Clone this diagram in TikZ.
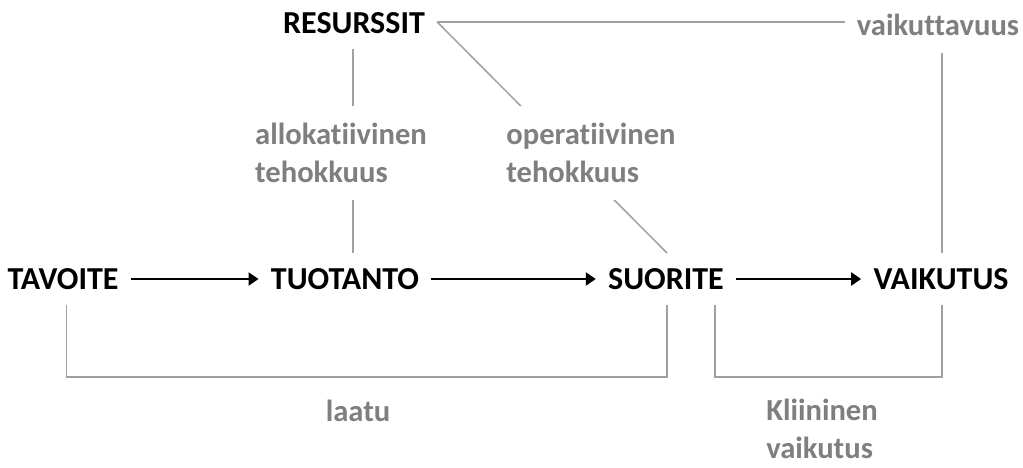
\documentclass[tikz,border=0pt]{standalone}
\usepackage{fontspec}
\setmainfont{Carlito}[Ligatures=NoCommon]
\usetikzlibrary{arrows.meta, positioning}
\definecolor{labelgray}{RGB}{127,127,127}
\definecolor{linegray}{RGB}{160,160,160}
\def\lw{1.15pt}
\tikzset{
    stage/.style = {
        font=\fontsize{16}{19}\selectfont\bfseries, inner xsep=6pt, inner ysep=7.5pt
    },
    measure/.style = {
        font=\fontsize{15.3}{19}\selectfont\bfseries, text=labelgray, align=left,
        inner xsep=6pt, inner ysep=8.5pt
    },
    link/.style = {draw=linegray, line width=0.75pt},
    flow/.style = {draw, line width=\lw, -{Triangle[width=6.5pt,length=5pt]}}
    }

\begin{document}
\begin{tikzpicture}[x=0.5pt, y=-0.5pt]
    \useasboundingbox (0,0) rectangle (1023,467);
    % main chain
    \node[stage] (tavoite) at (63,279) {TAVOITE};
    \node[stage] (tuotanto) at (345,279) {TUOTANTO};
    \node[stage] (suorite) at (666,279) {SUORITE};
    \node[stage] (vaikutus) at (941,279) {VAIKUTUS};
    \node[stage] (resurssit) at (354,23) {RESURSSIT};
    \draw[flow] (tavoite) -- (tuotanto);
    \draw[flow] (tuotanto) -- (suorite);
    \draw[flow] (suorite) -- (vaikutus);
    % resources
    \node[measure] (vaikuttavuus) at (938,25) {vaikuttavuus};
    \coordinate (rsplit) at ([yshift=0.5pt]resurssit.east);
    \draw[link] (rsplit) -- (vaikuttavuus.west |- rsplit);
    \draw[link] ([xshift=0.5pt]vaikutus.north) -- ([xshift=0.5pt]vaikutus.north |- vaikuttavuus.south);
    \draw[link] (rsplit) -- ([xshift=0.5pt]suorite.north);
    \node[measure, fill=white] (operat) at (591,153) {operatiivinen\\tehokkuus};
    \draw[link] ([xshift=-0.5pt]resurssit.south) -- ([xshift=-0.5pt]resurssit.south |- tuotanto.north);
    \node[measure, fill=white] (allok) at (341,153) {allokatiivinen\\tehokkuus};
    % outcomes
    \draw[link] ([xshift=1.75pt]tavoite.south) -- ++(0,72) -| ([xshift=0.5pt]suorite.south);
    \draw[link] ([xshift=24.5pt]suorite.south) -- ++(0,72) -| ([xshift=0.5pt]vaikutus.south);
    \node[measure] (laatu) at (358,411) {laatu};
    \node[measure, inner ysep=1pt] (kliininen) at (822,429) {Kliininen\\vaikutus};
\end{tikzpicture}
\end{document}
